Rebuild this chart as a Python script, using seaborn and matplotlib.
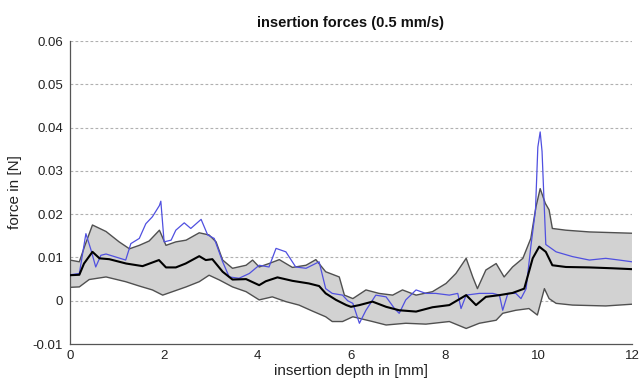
import matplotlib
matplotlib.use("Agg")
import matplotlib.pyplot as plt
import seaborn as sns
import pandas as pd

# ---- data ----
mean_x = [0, 0.2, 0.3, 0.48, 0.63, 0.84, 1.2, 1.55, 1.9, 2.05, 2.26, 2.47, 2.76, 2.9, 3.04,
          3.26, 3.47, 3.76, 4.04, 4.18, 4.43, 4.75, 5.1, 5.32, 5.46, 5.68, 5.9, 6.0, 6.18,
          6.46, 6.75, 7.03, 7.39, 7.74, 8.1, 8.46, 8.67, 8.88, 9.17, 9.45, 9.7, 9.88, 10.02,
          10.16, 10.3, 10.59, 11.09, 11.59, 12]
mean_y = [0.0059, 0.006, 0.0086, 0.0113, 0.0098, 0.0096, 0.0086, 0.008, 0.0094, 0.0077,
          0.0077, 0.0086, 0.0103, 0.0094, 0.0096, 0.0067, 0.0049, 0.005, 0.0036, 0.0045,
          0.0054, 0.0046, 0.004, 0.0034, 0.0017, 0.0002, -0.001, -0.0014, -0.001, -0.0002,
          -0.0014, -0.0022, -0.0025, -0.0015, -0.001, 0.0013, -0.001, 0.0009, 0.0013, 0.0018,
          0.0028, 0.0098, 0.0125, 0.0113, 0.0082, 0.0078, 0.0077, 0.0075, 0.0073]

upper_x = [0, 0.2, 0.31, 0.48, 0.77, 1.05, 1.27, 1.48, 1.69, 1.91, 2.05, 2.26, 2.48, 2.76,
           2.97, 3.12, 3.26, 3.47, 3.76, 3.9, 4.04, 4.25, 4.47, 4.75, 5.04, 5.25, 5.46, 5.75,
           5.86, 6.04, 6.32, 6.6, 6.89, 7.1, 7.39, 7.74, 8.03, 8.24, 8.46, 8.6, 8.7, 8.88,
           9.1, 9.27, 9.45, 9.67, 9.84, 9.95, 10.04, 10.15, 10.23, 10.3, 10.59, 11.09, 12]
upper_y = [0.0094, 0.009, 0.0125, 0.0175, 0.016, 0.0136, 0.012, 0.0128, 0.0138, 0.0163,
           0.0128, 0.0136, 0.014, 0.0157, 0.0152, 0.0136, 0.0094, 0.0075, 0.0082, 0.0094,
           0.0078, 0.0086, 0.0095, 0.0077, 0.0082, 0.0095, 0.0067, 0.0055, 0.0013, 0.0005,
           0.0025, 0.0017, 0.0013, 0.0025, 0.0013, 0.0021, 0.004, 0.0063, 0.0098, 0.0055,
           0.0028, 0.0071, 0.0086, 0.0055, 0.0078, 0.0098, 0.0144, 0.0217, 0.0259, 0.0225,
           0.021, 0.0167, 0.0163, 0.0159, 0.0156]

lower_x = [0, 0.2, 0.41, 0.77, 1.19, 1.48, 1.76, 1.98, 2.19, 2.48, 2.76, 2.97, 3.19, 3.47,
           3.76, 4.04, 4.32, 4.61, 4.89, 5.18, 5.46, 5.6, 5.82, 6.04, 6.46, 6.75, 7.17, 7.6,
           8.1, 8.46, 8.74, 9.1, 9.24, 9.52, 9.8, 9.98, 10.13, 10.23, 10.38, 10.73, 11.44, 12]
lower_y = [0.0031, 0.0032, 0.0049, 0.0055, 0.0044, 0.0034, 0.0025, 0.0013, 0.0021, 0.0032,
           0.0044, 0.0059, 0.0048, 0.0032, 0.0021, 0.0002, 0.0009, -0.0002, -0.001, -0.0024,
           -0.0037, -0.0048, -0.0048, -0.0037, -0.0048, -0.0056, -0.0052, -0.0054, -0.0048,
           -0.0064, -0.0052, -0.0045, -0.0029, -0.0022, -0.0018, -0.0033, 0.0028, 0.0005,
           -0.0006, -0.001, -0.0012, -0.0008]

trial_x = [0, 0.2, 0.34, 0.45, 0.55, 0.66, 0.77, 0.98, 1.19, 1.3, 1.48, 1.62, 1.76, 1.91,
           1.94, 2.01, 2.16, 2.26, 2.44, 2.58, 2.8, 2.94, 3.08, 3.26, 3.4, 3.61, 3.83, 4.04,
           4.25, 4.4, 4.61, 4.82, 5.04, 5.32, 5.46, 5.6, 5.82, 5.93, 6.04, 6.18, 6.32, 6.53,
           6.75, 6.93, 7.03, 7.17, 7.39, 7.6, 7.81, 8.1, 8.28, 8.35, 8.46, 8.74, 9.03, 9.17,
           9.24, 9.35, 9.52, 9.63, 9.74, 9.84, 9.94, 9.99, 10.04, 10.08, 10.13, 10.16, 10.38,
           10.73, 11.09, 11.44, 11.73, 12]
trial_y = [0.006, 0.0063, 0.0155, 0.0117, 0.0078, 0.0105, 0.0108, 0.0101, 0.0094, 0.0132,
           0.0144, 0.0178, 0.0194, 0.022, 0.023, 0.0136, 0.014, 0.0163, 0.018, 0.0167, 0.0188,
           0.0152, 0.0144, 0.009, 0.0055, 0.0052, 0.0063, 0.0082, 0.0078, 0.0121, 0.0113,
           0.0078, 0.0075, 0.009, 0.0028, 0.0017, 0.0013, 0.0, -0.0006, -0.0052, -0.0022,
           0.0013, 0.0009, -0.0018, -0.0029, 0.0002, 0.0025, 0.0017, 0.0017, 0.0013, 0.0017,
           -0.0018, 0.0013, 0.0017, 0.0017, 0.0013, -0.0022, 0.0017, 0.0017, 0.0005, 0.0028,
           0.0125, 0.021, 0.0355, 0.039, 0.0345, 0.021, 0.013, 0.0113, 0.0102, 0.0094, 0.0098,
           0.0094, 0.009]

y_ticks = [-0.01, 0, 0.01, 0.02, 0.03, 0.04, 0.05, 0.06]
y_ticklabels = ["-0.01", "0", "0.01", "0.02", "0.03", "0.04", "0.05", "0.06"]
x_ticks = [0, 2, 4, 6, 8, 10, 12]

# ---- style ----
sns.set_style("white")
plt.rcParams['font.family'] = ['Liberation Sans', 'DejaVu Sans']

fig = plt.figure(figsize=(6.39, 3.87), dpi=100)
ax = fig.add_axes([0.1095, 0.111, 0.8795, 0.783])

# grey band between upper and lower envelopes
band_x = upper_x + lower_x[::-1]
band_y = upper_y + lower_y[::-1]
ax.fill(band_x, band_y, color="#d2d2d2", zorder=1, linewidth=0)

for y in y_ticks[1:]:
    ax.axhline(y, color="#b0b0b0", linestyle=(0, (2.5, 2)), linewidth=0.8, zorder=0.5)

df_up = pd.DataFrame({"x": upper_x, "y": upper_y})
df_lo = pd.DataFrame({"x": lower_x, "y": lower_y})
df_mean = pd.DataFrame({"x": mean_x, "y": mean_y})
df_trial = pd.DataFrame({"x": trial_x, "y": trial_y})

sns.lineplot(data=df_up, x="x", y="y", ax=ax, color="#505050", linewidth=1.0,
             estimator=None, sort=False, zorder=2)
sns.lineplot(data=df_lo, x="x", y="y", ax=ax, color="#505050", linewidth=1.0,
             estimator=None, sort=False, zorder=2)
sns.lineplot(data=df_trial, x="x", y="y", ax=ax, color="#5050e0", linewidth=0.9,
             estimator=None, sort=False, zorder=3)
sns.lineplot(data=df_mean, x="x", y="y", ax=ax, color="#000000", linewidth=1.5,
             estimator=None, sort=False, zorder=4)

ax.set_xlim(0, 12)
ax.set_ylim(-0.01, 0.06)
ax.set_xticks(x_ticks)
ax.set_xticklabels([str(t) for t in x_ticks])
ax.set_yticks(y_ticks)
ax.set_yticklabels(y_ticklabels)

for s in ["top", "right"]:
    ax.spines[s].set_visible(False)
for s in ["left", "bottom"]:
    ax.spines[s].set_color("#555555")
    ax.spines[s].set_linewidth(0.9)

ax.tick_params(axis="both", direction="in", length=4, width=0.8, color="#555555",
               labelsize=9.5, labelcolor="#222222", pad=4)
ax.tick_params(axis="y", pad=5)

ax.set_xlabel("insertion depth in [mm]", fontsize=11, color="#222222", labelpad=2)
ax.set_ylabel("force in [N]", fontsize=11, color="#222222", labelpad=8)
ax.set_title("insertion forces (0.5 mm/s)", fontsize=10.5, fontweight="bold",
             color="#111111", pad=10)

fig.savefig("out.png", dpi=100)
